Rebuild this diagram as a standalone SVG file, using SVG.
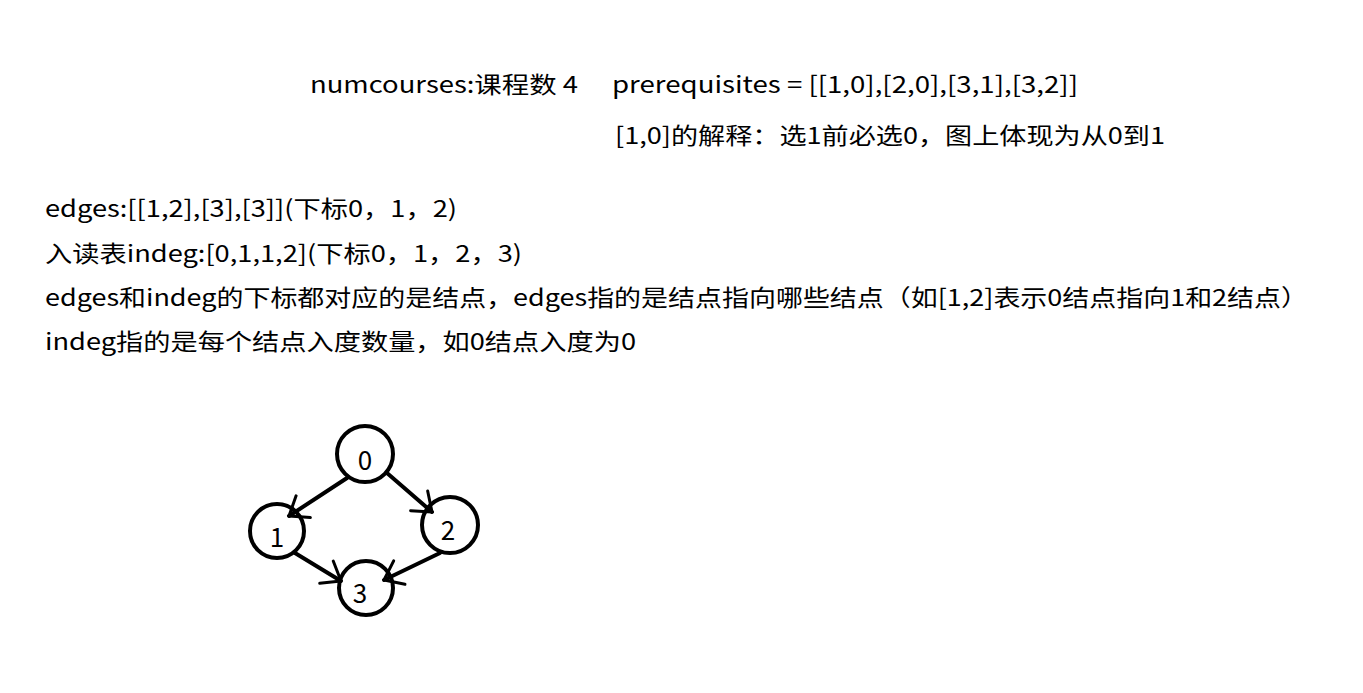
<svg xmlns="http://www.w3.org/2000/svg" width="1363" height="693" viewBox="0 0 1363 693">
<style>
.t{font-family:"Noto Sans CJK SC","Noto Sans",sans-serif;font-size:23px;fill:#000}
.n{fill:none;stroke:#000;stroke-width:4}
.e{stroke:#000;stroke-width:4;fill:none;stroke-linecap:round}
.l{font-family:"Noto Sans CJK SC","Noto Sans",sans-serif;font-size:26px;fill:#000;text-anchor:middle}
</style>
<defs>
<marker id="ah" markerUnits="userSpaceOnUse" markerWidth="40" markerHeight="40" refX="0" refY="0" viewBox="-25 -20 30 40" orient="auto">
<path d="M-17,-13 L0,0 L-17,13" fill="none" stroke="#000" stroke-width="3" stroke-linecap="round" stroke-linejoin="round"/>
</marker>
</defs>
<rect width="1363" height="693" fill="#fff"/>
<g id="texts">
<text class="t" x="310" y="93" textLength="268" lengthAdjust="spacingAndGlyphs">numcourses:课程数 4</text>
<text class="t" x="612" y="93" textLength="466" lengthAdjust="spacingAndGlyphs">prerequisites = [[1,0],[2,0],[3,1],[3,2]]</text>
<text class="t" x="615" y="144" textLength="550" lengthAdjust="spacingAndGlyphs">[1,0]的解释：选1前必选0，图上体现为从0到1</text>
<text class="t" x="45" y="217" textLength="412" lengthAdjust="spacingAndGlyphs">edges:[[1,2],[3],[3]](下标0，1，2)</text>
<text class="t" x="45" y="262" textLength="477" lengthAdjust="spacingAndGlyphs">入读表indeg:[0,1,1,2](下标0，1，2，3)</text>
<text class="t" x="45" y="306" textLength="1263" lengthAdjust="spacingAndGlyphs">edges和indeg的下标都对应的是结点，edges指的是结点指向哪些结点（如[1,2]表示0结点指向1和2结点）</text>
<text class="t" x="45" y="350" textLength="591" lengthAdjust="spacingAndGlyphs">indeg指的是每个结点入度数量，如0结点入度为0</text>
</g>
<g id="connectors">
<line class="e" x1="347" y1="478" x2="289" y2="516" marker-end="url(#ah)"/>
<line class="e" x1="387" y1="473" x2="432" y2="512" marker-end="url(#ah)"/>
<line class="e" x1="295" y1="553" x2="341" y2="581" marker-end="url(#ah)"/>
<line class="e" x1="440" y1="553" x2="384" y2="580" marker-end="url(#ah)"/>
</g>
<g id="node0"><circle class="n" cx="365" cy="454" r="28"/><text class="l" x="365" y="470">0</text></g>
<g id="node1"><circle class="n" cx="277" cy="531" r="27"/><text class="l" x="277" y="547">1</text></g>
<g id="node2"><circle class="n" cx="450" cy="525" r="28"/><text class="l" x="448" y="540">2</text></g>
<g id="node3"><circle class="n" cx="366" cy="588" r="27"/><text class="l" x="360" y="603">3</text></g>
</svg>
